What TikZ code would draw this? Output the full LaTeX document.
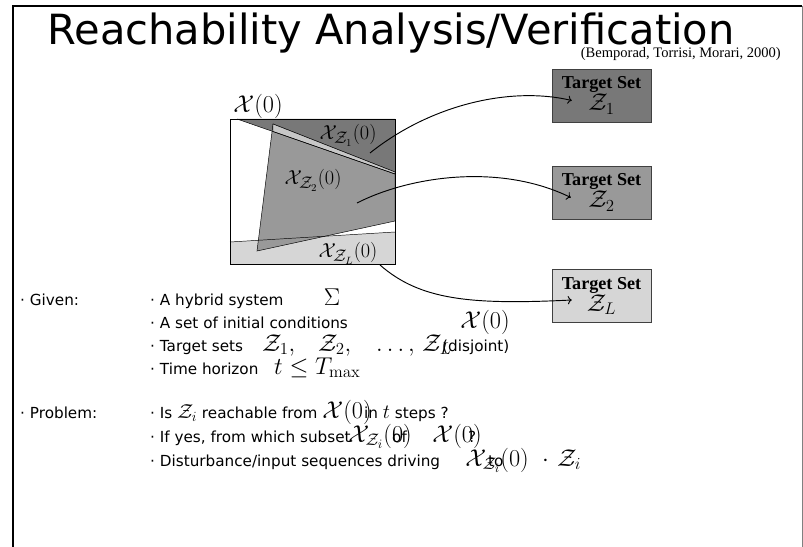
\documentclass[tikz,border=0pt]{standalone}
\usepackage[no-math]{fontspec}
\setmainfont{DejaVu Sans}
\newfontfamily\citefont{Liberation Serif}
\usetikzlibrary{arrows.meta}

\definecolor{zonefill}{gray}{0.47}
\definecolor{ztwofill}{gray}{0.60}
\definecolor{zlfill}{gray}{0.84}
\definecolor{bandfill}{gray}{0.78}

\newcommand{\inmath}[1]{{\fontsize{17}{17}\selectfont$#1$}}

\begin{document}
\begin{tikzpicture}[x=0.3mm, y=-0.3mm, >=To,
  every node/.style={inner sep=0pt},
  txt/.style={anchor=base west, font=\fontsize{13}{15}\selectfont},
  mth/.style={anchor=base, font=\fontsize{22}{24}\selectfont},
  lbl/.style={anchor=center, font=\fontsize{19}{22}\selectfont},
  target/.style={draw=black!75, minimum width=29.7mm, minimum height=15.9mm,
    align=center, inner sep=0pt},
  reach/.style={->, thick, black}]

\useasboundingbox (0,0) rectangle (803,547);

% frame
\draw[line width=1.4pt] (13,547) -- (13,6) -- (802,6);
\draw[gray, line width=0.8pt] (802,6) -- (802,547);

% title
\node[font=\fontsize{35.5}{40}\selectfont, anchor=base] (title) at (391,45) {Reachability Analysis/Verification};
\node[font=\citefont\fontsize{12.4}{14}\selectfont, anchor=base east] (cite) at (781,58) {(Bemporad, Torrisi, Morari, 2000)};

% initial set X(0) with the regions
\fill[zlfill] (230,242) -- (395,232) -- (395,264) -- (230,264) -- cycle;
\fill[zonefill] (237,119) -- (395,119) -- (395,174) -- cycle;
\filldraw[fill=ztwofill] (273,124) -- (395,172) -- (395,221) -- (257,251) -- cycle;
\filldraw[fill=bandfill] (273,124) -- (395,172) -- (395,174) -- (273,131.5) -- cycle;
\draw (237,119) -- (395,174);
\draw (230,242) -- (395,232);
\draw (230,119) rectangle (395,264);

\node[mth, anchor=center] (xzero) at (258,106) {$\mathcal{X}(0)$};
\node[lbl] (xone) at (348,135) {$\mathcal{X}_{\mathcal{Z}_1}(0)$};
\node[lbl] (xtwo) at (313,180) {$\mathcal{X}_{\mathcal{Z}_2}(0)$};
\node[lbl] (xlast) at (348,253) {$\mathcal{X}_{\mathcal{Z}_L}(0)$};

% target sets
\node[target, fill=zonefill] (tone) at (601.5,95.5)
  {{\citefont\bfseries\fontsize{15.5}{16}\selectfont Target Set}\\[0pt]{\fontsize{20}{21}\selectfont$\mathcal{Z}_1$}};
\node[target, fill=ztwofill] (ttwo) at (601.5,192.5)
  {{\citefont\bfseries\fontsize{15.5}{16}\selectfont Target Set}\\[0pt]{\fontsize{20}{21}\selectfont$\mathcal{Z}_2$}};
\node[target, fill=zlfill] (tlast) at (601.5,296)
  {{\citefont\bfseries\fontsize{15.5}{16}\selectfont Target Set}\\[0pt]{\fontsize{20}{21}\selectfont$\mathcal{Z}_L$}};

\coordinate (sone) at (370,153);
\coordinate (stwo) at (357,203);
\coordinate (slast) at (380,265);

\draw[reach] (sone) .. controls (430,105) and (510,86) .. ([shift={(20,5)}]tone.west);
\draw[reach] (stwo) .. controls (410,176) and (500,163) .. ([shift={(19,5)}]ttwo.west);
\draw[reach] (slast) .. controls (420,300) and (470,305) .. ([shift={(20,4)}]tlast.west);

% given
\node[txt] (given) at (20,305) {· Given:};
\node[txt] (hybrid) at (150,305) {· A hybrid system};
\node[mth] (sigma) at (332,305) {$\Sigma$};
\node[txt] (initial) at (150,328) {· A set of initial conditions};
\node[mth] (xinit) at (485,328) {$\mathcal{X}(0)$};
\node[txt] (targets) at (150,351) {· Target sets};
\node[mth, anchor=base west] (zone) at (262,351) {$\mathcal{Z}_1,$};
\node[mth, anchor=base west] (ztwo) at (318,351) {$\mathcal{Z}_2,$};
\node[mth, anchor=base west] (zdots) at (376,351) {$\ldots,$};
\node[mth, anchor=base west] (zlast) at (422,351) {$\mathcal{Z}_L$};
\node[txt] (disjoint) at (442,351) {(disjoint)};
\node[txt] (horizon) at (150,374) {· Time horizon};
\node[mth, anchor=base west] (tmax) at (274,374) {$t\le T_{\max}$};

% problem
\node[txt] (problem) at (20,418) {· Problem:};
\node[txt] (isz) at (150,418) {· Is \inmath{\mathcal{Z}_i} reachable from};
\node[mth] (xreach) at (347,418) {$\mathcal{X}(0)$};
\node[txt] (steps) at (364,418) {in \inmath{t} steps ?};
\node[txt] (subset) at (150,442) {· If yes, from which subset};
\node[mth] (xsub) at (380,442) {$\mathcal{X}_{\mathcal{Z}_i}(0)$};
\node[txt] (of) at (392,442) {of};
\node[mth] (xof) at (457,442) {$\mathcal{X}(0)$};
\node[txt] (qmark) at (468,442) {?};
\node[txt] (driving) at (150,466) {· Disturbance/input sequences driving};
\node[mth] (xdrive) at (497,466) {$\mathcal{X}_{\mathcal{Z}_i}(0)$};
\node[txt] (to) at (488,466) {to};
\node[mth, anchor=base west] (zdrive) at (542,466) {$\cdot\ \mathcal{Z}_i$};

\end{tikzpicture}
\end{document}
